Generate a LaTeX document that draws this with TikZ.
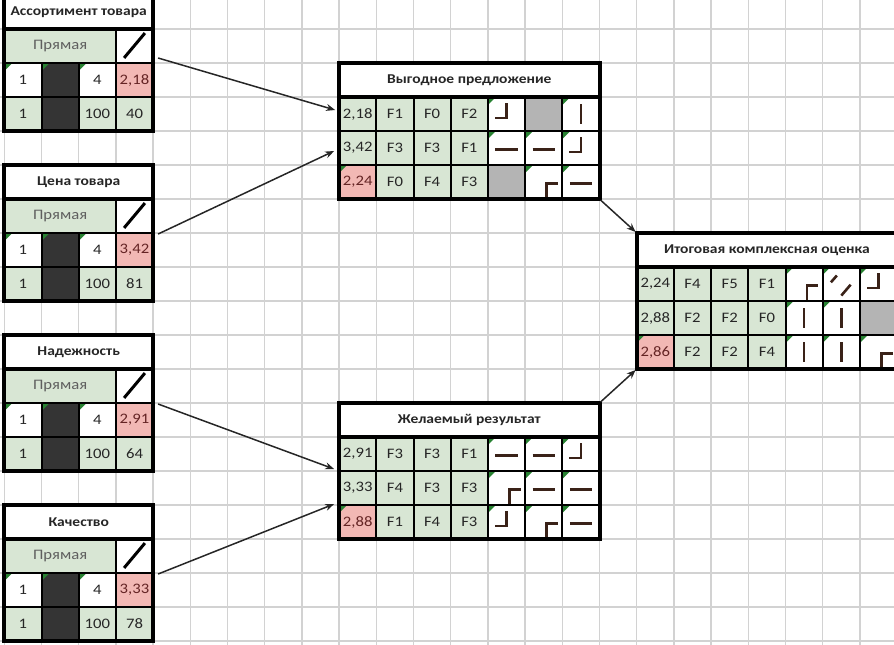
\documentclass[tikz,border=0pt]{standalone}
\usepackage{fontspec}
\setmainfont{Carlito}[FakeStretch=1.15]
\usetikzlibrary{arrows.meta,calc,positioning}

\definecolor{cGrid}{RGB}{210,210,210}
\definecolor{cGood}{RGB}{216,230,212}
\definecolor{cBad}{RGB}{242,184,180}
\definecolor{cDark}{RGB}{52,52,52}
\definecolor{cBlank}{RGB}{180,180,180}
\definecolor{cPipe}{RGB}{58,34,24}
\definecolor{cMark}{RGB}{40,130,50}
\definecolor{cText}{RGB}{38,38,38}
\definecolor{cKind}{RGB}{95,95,95}
\definecolor{cBadText}{RGB}{100,36,36}

\tikzset{
  cell/.style={draw=black, line width=2pt, fill=white, minimum width=37.2pt,
    minimum height=34pt, inner sep=0pt, text=cText,
    font=\fontsize{14.5}{16}\selectfont},
  good/.style={cell, fill=cGood},
  bad/.style={cell, fill=cBad, text=cBadText},
  darkbox/.style={cell, fill=cDark},
  headcell/.style={cell, font=\fontsize{13.5}{15}\selectfont\bfseries},
  marked/.style={path picture={\fill[cMark] (path picture bounding box.north west)
      -- ++(8pt,0) -- ++(-8pt,-8pt) -- cycle;}},
  pipe/.style={draw=cPipe, line width=2.6pt},
  ic-H/.style={cell, marked}, ic-V/.style={cell, marked},
  ic-J/.style={cell, marked}, ic-R/.style={cell, marked},
  ic-D/.style={cell, marked}, ic-N/.style={cell, fill=cBlank},
  glyph H/.pic={\draw[pipe] (.2,.55) -- (.8,.55);},
  glyph V/.pic={\draw[pipe] (.5,.22) -- (.5,.8);},
  glyph J/.pic={\draw[pipe] (.5,.18) -- (.5,.62) -- (.18,.62);},
  glyph R/.pic={\draw[pipe] (.58,.96) -- (.58,.55) -- (.88,.55);},
  glyph D/.pic={\draw[pipe] (.22,.45) -- (.38,.25) (.5,.84) -- (.75,.52);},
  glyph N/.pic={},
  frame/.style={draw=black, line width=4pt},
  slashline/.style={draw=black, line width=3pt},
  gridline/.style={draw=cGrid, line width=1.3pt},
  link/.style={draw=black!85, line width=1.5pt, -{Stealth[length=9pt,width=7pt]}},
}

% name, row, title, value, count
\newcommand{\inputpanel}[5]{%
  \node[headcell, minimum width=148.8pt] (#1-t) at (2,#2+.5) {#3};
  \node[good, minimum width=111.6pt, text=cKind] (#1-k) at (1.5,#2+1.5) {Прямая};
  \node[cell] (#1-s) at (3.5,#2+1.5) {};
  \draw[slashline] (3.22,#2+1.85) -- (3.78,#2+1.12);
  \node[cell, marked] (#1-a) at (.5,#2+2.5) {1};
  \node[darkbox, marked] (#1-b) at (1.5,#2+2.5) {};
  \node[cell, marked] (#1-c) at (2.5,#2+2.5) {4};
  \node[bad] (#1-v) at (3.5,#2+2.5) {#4};
  \node[good] (#1-d) at (.5,#2+3.5) {1};
  \node[darkbox] (#1-e) at (1.5,#2+3.5) {};
  \node[good] (#1-f) at (2.5,#2+3.5) {100};
  \node[good] (#1-n) at (3.5,#2+3.5) {#5};
  \draw[frame] (0,#2) rectangle (4,#2+4);
  \draw[frame] (0,#2+1) -- (4,#2+1);
}

% name, col, row, index, value style, value, F list, icon list
\newcommand{\scorerow}[8]{%
  \node[#5] (#1-v#4) at (#2+.5,#3+.5) {#6};
  \foreach \f [count=\i] in {#7}
    \node[good] (#1-f#4\i) at (#2+\i+.5,#3+.5) {\f};
  \foreach \p [count=\i] in {#8} {
    \node[ic-\p] (#1-p#4\i) at (#2+\i+3.5,#3+.5) {};
    \pic at (#2+\i+3,#3) {glyph \p};
  }
}

\begin{document}
\begin{tikzpicture}[x=37.2pt, y=-34pt]
  \useasboundingbox (-0.1156,0.147) rectangle (23.916,19.088);

  % sheet grid
  \foreach \k in {0,...,24} \draw[gridline] (\k,-1) -- (\k,20);
  \foreach \j in {0,...,19} \draw[gridline] (-1,\j) -- (25,\j);

  \inputpanel{asrt}{0}{Ассортимент товара}{2,18}{40}
  \inputpanel{price}{5}{Цена товара}{3,42}{81}
  \inputpanel{rel}{10}{Надежность}{2,91}{64}
  \inputpanel{qual}{15}{Качество}{3,33}{78}

  % Выгодное предложение
  \node[headcell, minimum width=260.4pt] (offer-t) at (12.5,2.5) {Выгодное предложение};
  \scorerow{offer}{9}{3}{1}{good}{2,18}{F1,F0,F2}{J,N,V}
  \scorerow{offer}{9}{4}{2}{good}{3,42}{F3,F3,F1}{H,H,J}
  \scorerow{offer}{9}{5}{3}{bad, marked}{2,24}{F0,F4,F3}{N,R,H}
  \draw[frame] (9,2) rectangle (16,6);
  \draw[frame] (9,3) -- (16,3);

  % Желаемый результат
  \node[headcell, minimum width=260.4pt] (want-t) at (12.5,12.5) {Желаемый результат};
  \scorerow{want}{9}{13}{1}{good}{2,91}{F3,F3,F1}{H,H,J}
  \scorerow{want}{9}{14}{2}{good}{3,33}{F4,F3,F3}{R,H,H}
  \scorerow{want}{9}{15}{3}{bad, marked}{2,88}{F1,F4,F3}{J,R,H}
  \draw[frame] (9,12) rectangle (16,16);
  \draw[frame] (9,13) -- (16,13);

  % Итоговая комплексная оценка
  \node[headcell, minimum width=260.4pt] (total-t) at (20.5,7.5) {Итоговая комплексная оценка};
  \scorerow{total}{17}{8}{1}{good}{2,24}{F4,F5,F1}{R,D,J}
  \scorerow{total}{17}{9}{2}{good}{2,88}{F2,F2,F0}{V,V,N}
  \scorerow{total}{17}{10}{3}{bad, marked}{2,86}{F2,F2,F4}{V,V,R}
  \draw[frame] (17,7) rectangle (24,11);
  \draw[frame] (17,8) -- (24,8);

  \draw[link] ([shift={(4pt,6pt)}]asrt-s.south east) -- ([shift={(-3pt,4pt)}]offer-v1.west);
  \draw[link] ([xshift=4pt]price-s.south east) -- ([shift={(-4pt,-3pt)}]offer-v2.west);
  \draw[link] ([xshift=4pt]rel-s.south east) -- ([shift={(-4pt,3pt)}]want-v1.south west);
  \draw[link] ([xshift=4pt]qual-s.south east) -- ([xshift=-4pt]want-v3.north west);
  \draw[link] (offer-p33.south east) -- (total-t.north west);
  \draw[link] (want-t.north east) -- (total-v3.south west);
\end{tikzpicture}
\end{document}
